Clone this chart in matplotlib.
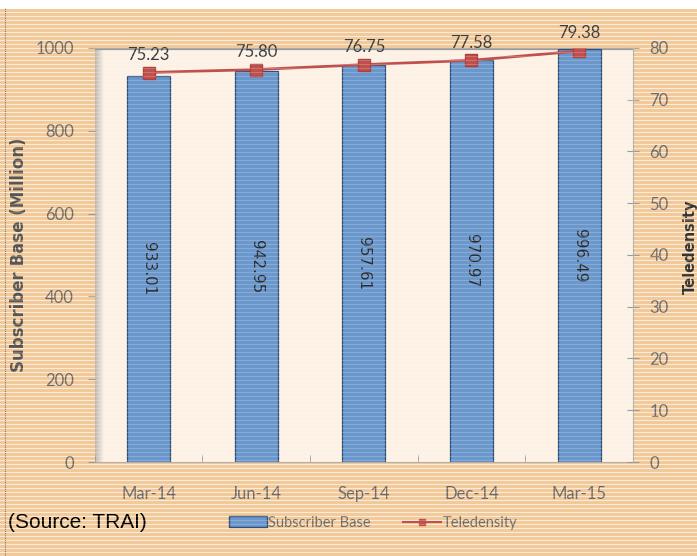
import numpy as np
import matplotlib.pyplot as plt
from matplotlib.patches import Patch
from matplotlib.lines import Line2D

# dados
quarters = ['Mar-14', 'Jun-14', 'Sep-14', 'Dec-14', 'Mar-15']
subscriber_base = [933.01, 942.95, 957.61, 970.97, 996.49]
teledensity = [75.23, 75.80, 76.75, 77.58, 79.38]

plt.rcParams['font.family'] = ['Lato', 'DejaVu Sans']

fig = plt.figure(figsize=(6.97, 5.56), dpi=100)

# fundo listrado (efeito da imagem escaneada)
bg = fig.add_axes([0, 0, 1, 1], zorder=-10)
rows = 556
stripes = np.zeros((rows, 1, 3))
for r in range(rows):
    if r % 4 == 0:
        stripes[r, 0] = (0.99, 0.91, 0.80)
    else:
        stripes[r, 0] = (0.95, 0.79, 0.61)
stripes[:9, 0] = (1, 1, 1)
bg.imshow(stripes, aspect='auto', extent=(0, 1, 0, 1), interpolation='nearest')
bg.plot([0.007, 0.007], [0, 0.985], color='#777777', lw=0.8, ls=(0, (1, 1)))
bg.set_xlim(0, 1)
bg.set_ylim(0, 1)
bg.axis('off')

ax = fig.add_axes([0.136, 0.169, 0.772, 0.745])
ax.set_facecolor('#fcf1e4')
x = np.arange(len(quarters))

# sombra na esquerda e em cima da area do grafico
grad = np.linspace(0.55, 1, 30)
shade = np.ones((1, 30, 4))
shade[0, :, :3] = 0.45
shade[0, :, 3] = 1 - grad
ax.imshow(np.clip(shade, 0, 1), aspect='auto', extent=(-0.5, -0.42, 0, 1000), zorder=0.5)
ax.axhline(1000, color='#9a9a9a', lw=3, zorder=0.6)

bars = ax.bar(x, subscriber_base, width=0.4, color='#6a97cc', edgecolor='#2f4e78', lw=0.9, zorder=2)
for xi, v in zip(x, subscriber_base):
    ax.text(xi, v / 2, f'{v:.2f}', rotation=270, ha='center', va='center',
            fontsize=11, color='#2a2a2a', family='DejaVu Sans', zorder=4)

ax.set_xlim(-0.5, 4.5)
ax.set_ylim(0, 1000)
ax.set_yticks(range(0, 1001, 200))
ax.set_xticks(x)
ax.set_xticklabels(quarters)
ax.set_xticks(np.arange(-0.5, 5, 1), minor=True)
ax.tick_params(axis='x', which='major', length=0, pad=17, labelsize=12, labelcolor='#6a6a6a')
ax.tick_params(axis='x', which='minor', length=5, direction='in', color='#9a9a9a')
ax.tick_params(axis='y', length=5, color='#9a9a9a', labelsize=12, labelcolor='#6a6a6a', pad=10)
for s in ['top', 'right', 'left']:
    ax.spines[s].set_visible(False)
ax.spines['bottom'].set_color('#b0b0b0')
ax.set_ylabel('Subscriber Base (Million)', fontsize=12, color='#555555',
              family='DejaVu Sans', fontweight='bold')
ax.yaxis.set_label_coords(-0.125, 0.5)

ax2 = ax.twinx()
ax2.plot(x, teledensity, color='#c0504d', lw=2, marker='s', markersize=8,
         markerfacecolor='#c0504d', markeredgecolor='#b03e3b', zorder=5)
for xi, v in zip(x, teledensity):
    ax2.text(xi, v + 1.9, f'{v:.2f}', ha='center', va='bottom', fontsize=12, color='#3a3a3a')
ax2.set_ylim(0, 80)
ax2.set_yticks(range(0, 81, 10))
ax2.tick_params(axis='y', length=8, direction='inout', color='#9a9a9a', labelsize=12,
                labelcolor='#6a6a6a', pad=8)
for s in ['top', 'left', 'bottom']:
    ax2.spines[s].set_visible(False)
ax2.spines['right'].set_color('#b0b0b0')
ax2.spines['right'].set_linestyle((0, (1, 1)))
ax2.set_ylabel('Teledensity', fontsize=10.5, color='#333333', family='DejaVu Sans',
               fontweight='bold')
ax2.yaxis.set_label_coords(1.093, 0.52)

handles = [Patch(facecolor='#6a97cc', edgecolor='#2f4e78'),
           Line2D([0], [0], color='#c0504d', lw=1.5, marker='s', markersize=5)]
fig.legend(handles, ['Subscriber Base', 'Teledensity'], loc='center',
           bbox_to_anchor=(0.535, 0.06), ncol=2, frameon=False, fontsize=10.5,
           labelcolor='#6a6a6a', handlelength=2.6, columnspacing=2.2, handletextpad=0.1)

fig.text(0.012, 0.06, '(Source: TRAI)', fontsize=15, family='Liberation Sans',
         va='center', ha='left', color='black')

# listras brancas finas por cima de tudo (como na imagem original)
ov = fig.add_axes([0, 0, 1, 1], zorder=20)
ov.patch.set_alpha(0)
ov.set_xlim(0, 1)
ov.set_ylim(0, rows)
for r in range(12, rows - 9, 4):
    ov.axhline(r + 0.5, color='white', lw=0.5, alpha=0.28)
ov.axis('off')

fig.savefig('out.png', dpi=100)
